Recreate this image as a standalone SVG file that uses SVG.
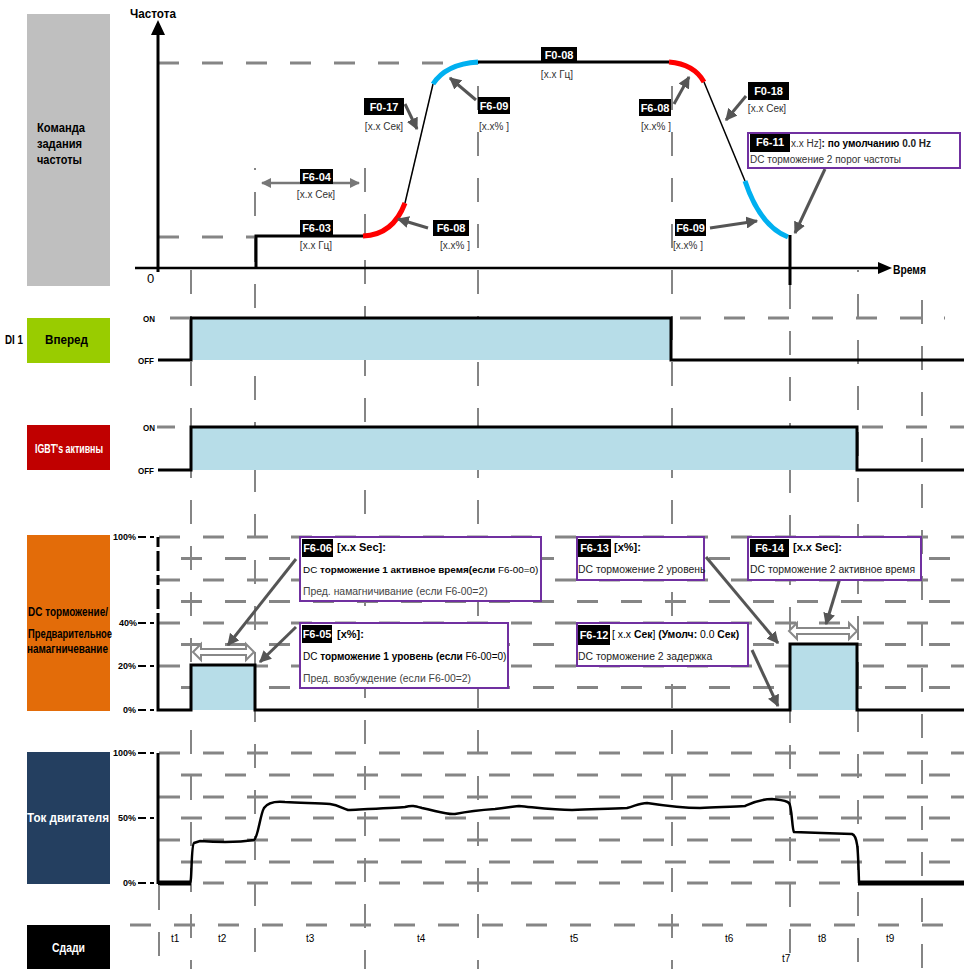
<svg xmlns="http://www.w3.org/2000/svg" width="964" height="969" viewBox="0 0 964 969">
<style>
text{font-family:"Liberation Sans Narrow","Liberation Sans",Arial,sans-serif}
.b{font-weight:bold}
.side{font-size:12px;font-weight:bold}
.lbl{font-size:11px;font-weight:bold;fill:#fff}
.sub{font-size:10px;fill:#333}
.box{fill:#fff;stroke:#7030a0;stroke-width:2}
.blk{fill:#000}
.vg{stroke:#858585;stroke-width:2;stroke-dasharray:24 22;fill:none}
.hg{stroke:#858585;stroke-width:3;stroke-dasharray:21 23;fill:none}
.sig{stroke:#000;stroke-width:3;fill:none}
.fill{fill:#b7dde8}
.arr{stroke:#555;stroke-width:3;fill:none;marker-end:url(#ah)}
.pct{font-size:9px;font-weight:bold}
.bt{font-size:10px}
.bx{font-size:10.4px}
</style>
<defs>
<marker id="ah" viewBox="0 0 10 10" refX="9" refY="5" markerWidth="4" markerHeight="4" orient="auto-start-reverse" markerUnits="strokeWidth"><path d="M0,0 L10,5 L0,10 z" fill="#555"/></marker>
<marker id="ag" viewBox="0 0 10 10" refX="9" refY="5" markerWidth="4" markerHeight="4" orient="auto-start-reverse" markerUnits="strokeWidth"><path d="M0,0 L10,5 L0,10 z" fill="#777"/></marker>
</defs>

<g id="grid">
<line class="vg" x1="159" y1="886" x2="159" y2="969"/>
<line class="vg" x1="191" y1="270" x2="191" y2="969"/>
<line class="vg" x1="255" y1="168" x2="255" y2="969" stroke-dashoffset="22"/>
<line class="vg" x1="365" y1="168" x2="365" y2="969"/>
<line class="vg" x1="478" y1="62" x2="478" y2="969" stroke-dashoffset="22"/>
<line class="vg" x1="672" y1="62" x2="672" y2="969" stroke-dashoffset="22"/>
<line class="vg" x1="790" y1="285" x2="790" y2="969"/>
<line class="vg" x1="858" y1="270" x2="858" y2="969" stroke-dashoffset="22"/>
<line class="vg" x1="922" y1="300" x2="922" y2="969"/>
<line class="hg" x1="158" y1="63" x2="478" y2="63" stroke-width="2" stroke-dasharray="20 24"/>
<line class="hg" x1="158" y1="237" x2="256" y2="237" stroke-width="2" stroke-dasharray="18 4 40 6"/>
<line class="hg" x1="680" y1="318" x2="945" y2="318"/>
<line class="hg" x1="862" y1="427" x2="964" y2="427"/>
<line class="hg" x1="159" y1="537" x2="964" y2="537"/>
<line class="hg" x1="159" y1="558.5" x2="964" y2="558.5" stroke-dashoffset="22"/>
<line class="hg" x1="159" y1="580" x2="964" y2="580"/>
<line class="hg" x1="159" y1="601.5" x2="964" y2="601.5" stroke-dashoffset="22"/>
<line class="hg" x1="159" y1="623" x2="964" y2="623"/>
<line class="hg" x1="159" y1="644.5" x2="964" y2="644.5" stroke-dashoffset="22"/>
<line class="hg" x1="159" y1="666" x2="964" y2="666"/>
<line class="hg" x1="159" y1="687.5" x2="964" y2="687.5" stroke-dashoffset="22"/>
<line class="hg" x1="159" y1="753" x2="964" y2="753"/>
<line class="hg" x1="159" y1="775" x2="964" y2="775" stroke-dashoffset="22"/>
<line class="hg" x1="159" y1="797" x2="964" y2="797"/>
<line class="hg" x1="159" y1="818" x2="964" y2="818" stroke-dashoffset="22"/>
<line class="hg" x1="159" y1="840" x2="964" y2="840"/>
<line class="hg" x1="159" y1="862" x2="964" y2="862" stroke-dashoffset="22"/>
<line class="hg" x1="159" y1="883" x2="964" y2="883"/>
<line class="hg" x1="130" y1="925" x2="964" y2="925" stroke-dasharray="12 7"/>
</g>

<g id="side-freq"><rect x="27" y="14" width="83" height="272" fill="#bfbfbf"/>
<text class="side" x="37" y="132" textLength="48" lengthAdjust="spacingAndGlyphs">Команда</text>
<text class="side" x="37" y="148" textLength="45" lengthAdjust="spacingAndGlyphs">задания</text>
<text class="side" x="37" y="164" textLength="45" lengthAdjust="spacingAndGlyphs">частоты</text></g>
<g id="side-di"><text class="side" x="5" y="344" textLength="18" lengthAdjust="spacingAndGlyphs">DI 1</text>
<rect x="27" y="318" width="83" height="45" fill="#99cc00"/>
<text class="side" x="45" y="344" textLength="43" lengthAdjust="spacingAndGlyphs">Вперед</text></g>
<g id="side-igbt"><rect x="27" y="425" width="83" height="45" fill="#c00000"/>
<text class="side" x="35" y="453" fill="#fff" textLength="68" lengthAdjust="spacingAndGlyphs">IGBT's активны</text></g>
<g id="side-dc"><rect x="27" y="535" width="83" height="176" fill="#e36c09"/>
<text class="side" x="28" y="616" font-size="10.6" textLength="80" lengthAdjust="spacingAndGlyphs">DC торможение/</text>
<text class="side" x="28" y="638" font-size="10.4" textLength="84" lengthAdjust="spacingAndGlyphs">Предварительное</text>
<text class="side" x="27" y="653" textLength="81" lengthAdjust="spacingAndGlyphs">намагничевание</text></g>
<g id="side-cur"><rect x="27" y="752" width="83" height="132" fill="#243f60"/>
<text class="side" x="27" y="822" fill="#fff" font-size="13" textLength="82" lengthAdjust="spacingAndGlyphs">Ток двигателя</text></g>
<g id="side-st"><rect x="27" y="925" width="83" height="44" fill="#000"/>
<text class="side" x="52" y="952" fill="#fff" textLength="33" lengthAdjust="spacingAndGlyphs">Сдади</text></g>

<g id="freq-axes">
<line x1="158" y1="272" x2="158" y2="32" stroke="#000" stroke-width="3"/>
<path d="M158,20 L151,35 L165,35 Z" fill="#000"/>
<line x1="135" y1="268" x2="880" y2="268" stroke="#000" stroke-width="2.5"/>
<path d="M892,268 L878,262 L878,274 Z" fill="#000"/>
<text class="b" x="130" y="18" font-size="13" textLength="46" lengthAdjust="spacingAndGlyphs">Частота</text>
<text class="b" x="893" y="274" font-size="13" textLength="33" lengthAdjust="spacingAndGlyphs">Время</text>
<text x="147" y="283" font-size="13">0</text>
</g>
<g id="freq-curve">
<path class="sig" d="M256,268 L256,236 L363,236"/>
<path d="M363,236 Q393,235 405,203" stroke="#ff0000" stroke-width="5" fill="none"/>
<line x1="405" y1="203" x2="433" y2="84" stroke="#000" stroke-width="1.5"/>
<path d="M433,84 Q446,64 478,62" stroke="#00b0f0" stroke-width="5" fill="none"/>
<line class="sig" x1="478" y1="62" x2="669" y2="62"/>
<path d="M669,62 Q694,64 704,82" stroke="#ff0000" stroke-width="5" fill="none"/>
<line x1="704" y1="82" x2="745" y2="181" stroke="#000" stroke-width="1.5"/>
<path d="M745,181 Q760,226 788,237" stroke="#00b0f0" stroke-width="5" fill="none"/>
<line class="sig" x1="790" y1="235" x2="790" y2="285"/>
</g>

<g id="connectors">
<line class="arr" x1="405" y1="104" x2="417" y2="129"/>
<line class="arr" x1="476" y1="100" x2="450" y2="78"/>
<line class="arr" x1="428" y1="228" x2="398" y2="219"/>
<line class="arr" x1="674" y1="104" x2="689" y2="77"/>
<line class="arr" x1="746" y1="96" x2="726" y2="120"/>
<line class="arr" x1="825" y1="169" x2="795" y2="233"/>
<line class="arr" x1="710" y1="228" x2="757" y2="221"/>
<line x1="262" y1="183" x2="359" y2="183" stroke="#777" stroke-width="2.5" marker-start="url(#ag)" marker-end="url(#ag)"/>
<line class="arr" x1="296" y1="559" x2="228" y2="645"/>
<line class="arr" x1="296" y1="627" x2="260" y2="662"/>
<line class="arr" x1="706" y1="557" x2="778" y2="643"/>
<line class="arr" x1="752" y1="650" x2="778" y2="706"/>
<line class="arr" x1="840" y1="578" x2="826" y2="624"/>
</g>

<g id="freq-labels">
<g id="n-f008"><rect class="blk" x="541" y="47" width="36" height="15"/><text class="lbl" x="559" y="58.5" text-anchor="middle">F0-08</text><text class="sub" x="557" y="78" text-anchor="middle">[x.x Гц]</text></g>
<g id="n-f017"><rect class="blk" x="364" y="98" width="40" height="17"/><text class="lbl" x="384" y="110.5" text-anchor="middle">F0-17</text><text class="sub" x="384" y="130" text-anchor="middle">[x.x Сек]</text></g>
<g id="n-f609a"><rect class="blk" x="478" y="97" width="32" height="17"/><text class="lbl" x="494" y="109.5" text-anchor="middle">F6-09</text><text class="sub" x="494" y="130" text-anchor="middle">[x.x% ]</text></g>
<g id="n-f604"><rect class="blk" x="300" y="169" width="33" height="15"/><text class="lbl" x="316.5" y="180.5" text-anchor="middle">F6-04</text><text class="sub" x="316" y="198" text-anchor="middle">[x.x Сек]</text></g>
<g id="n-f603"><rect class="blk" x="300" y="220" width="33" height="15"/><text class="lbl" x="316.5" y="231.5" text-anchor="middle">F6-03</text><text class="sub" x="316" y="249" text-anchor="middle">[x.x Гц]</text></g>
<g id="n-f608a"><rect class="blk" x="433" y="220" width="36" height="16"/><text class="lbl" x="451" y="232" text-anchor="middle">F6-08</text><text class="sub" x="455" y="249" text-anchor="middle">[x.x% ]</text></g>
<g id="n-f608b"><rect class="blk" x="639" y="99" width="32" height="17"/><text class="lbl" x="655" y="111.5" text-anchor="middle">F6-08</text><text class="sub" x="656" y="130" text-anchor="middle">[x.x% ]</text></g>
<g id="n-f018"><rect class="blk" x="748" y="82" width="41" height="18"/><text class="lbl" x="768.5" y="95" text-anchor="middle">F0-18</text><text class="sub" x="767" y="112" text-anchor="middle">[x.x Сек]</text></g>
<g id="n-f609b"><rect class="blk" x="675" y="219" width="31" height="17"/><text class="lbl" x="690.5" y="231.5" text-anchor="middle">F6-09</text><text class="sub" x="688" y="249" text-anchor="middle">[x.x% ]</text></g>
<g id="n-f611"><rect class="box" x="748" y="133" width="212" height="35"/><rect class="blk" x="750" y="134" width="40" height="18"/><text class="lbl" x="770" y="146" text-anchor="middle">F6-11</text>
<text x="791" y="147" font-size="10" fill="#333">x.x Hz]<tspan font-weight="bold" fill="#000">: по умолчанию </tspan><tspan font-weight="bold" fill="#222">0.0 Hz</tspan></text>
<text x="750" y="163" font-size="10" fill="#333">DC торможение 2 порог частоты</text></g>
</g>

<g id="di">
<rect class="fill" x="191" y="318" width="480" height="42"/>
<path class="sig" d="M158,360 L191,360 L191,318 L671,318 L671,360 L964,360"/>
<line x1="170" y1="318" x2="189" y2="318" stroke="#858585" stroke-width="3"/>
<text class="b" x="143" y="322" font-size="9" textLength="12" lengthAdjust="spacingAndGlyphs">ON</text>
<text class="b" x="138" y="364" font-size="9" textLength="16" lengthAdjust="spacingAndGlyphs">OFF</text>
</g>
<g id="igbt">
<rect class="fill" x="191" y="427" width="666" height="43"/>
<path class="sig" d="M158,470 L191,470 L191,427 L857,427 L857,470 L964,470"/>
<line x1="157" y1="427" x2="175" y2="427" stroke="#858585" stroke-width="3"/>
<text class="b" x="143" y="431" font-size="9" textLength="12" lengthAdjust="spacingAndGlyphs">ON</text>
<text class="b" x="138" y="474" font-size="9" textLength="16" lengthAdjust="spacingAndGlyphs">OFF</text>
</g>

<g id="dc">
<rect class="fill" x="191" y="665" width="64" height="45"/>
<rect class="fill" x="790" y="644" width="67" height="66"/>
<line x1="158" y1="537" x2="158" y2="623" stroke="#000" stroke-width="3" stroke-dasharray="10 4 20 4"/>
<path class="sig" d="M158,623 L158,710 L191,710 L191,665 L255,665 L255,710 L790,710 L790,644 L857,644 L857,710 L964,710"/>
<path d="M193,652 L201,644 L201,649 L246,649 L246,644 L254,652 L246,660 L246,655 L201,655 L201,660 Z" fill="#fff" stroke="#888" stroke-width="2"/>
<path d="M789,631 L797,623 L797,628 L849,628 L849,623 L857,631 L849,639 L849,634 L797,634 L797,639 Z" fill="#fff" stroke="#888" stroke-width="2"/>
<text class="pct" x="136" y="540" text-anchor="end">100%</text>
<text class="pct" x="137" y="625.5" text-anchor="end">40%</text>
<text class="pct" x="136" y="669" text-anchor="end">20%</text>
<text class="pct" x="136" y="713" text-anchor="end">0%</text>
<path d="M138,537 H146 M150,537 H154 M138,623 H146 M150,623 H154 M138,666 H146 M150,666 H154 M138,710 H146 M150,710 H154" stroke="#000" stroke-width="2"/>
</g>

<g id="n-f606"><rect class="box" x="300" y="537" width="241" height="64"/><rect class="blk" x="302" y="539" width="31" height="18"/><text class="lbl" x="317.5" y="551.5" text-anchor="middle">F6-06</text>
<text class="b" x="337" y="551" font-size="11">[x.x Sec]:</text>
<text x="303" y="573" font-size="9.9">DC <tspan font-weight="bold">торможение 1 активное время(если </tspan>F6-00=0)</text>
<text x="303" y="595" class="bx" fill="#444">Пред. намагничивание  (если F6-00=2)</text></g>
<g id="n-f605"><rect class="box" x="300" y="623" width="208" height="65"/><rect class="blk" x="302" y="625" width="30" height="18"/><text class="lbl" x="317" y="637.5" text-anchor="middle">F6-05</text>
<text class="b" x="337" y="638" font-size="11">[x%]:</text>
<text x="303" y="660" font-size="10">DC <tspan font-weight="bold">торможение 1 уровень (если </tspan>F6-00=0)</text>
<text x="303" y="682" class="bx" fill="#444">Пред. возбуждение (если F6-00=2)</text></g>
<g id="n-f613"><rect class="box" x="577" y="537" width="127" height="43"/><rect class="blk" x="578" y="539" width="33" height="18"/><text class="lbl" x="594.5" y="551.5" text-anchor="middle">F6-13</text>
<text class="b" x="614" y="551" font-size="11">[x%]:</text>
<text x="578" y="573" class="bx" fill="#222">DC торможение 2 уровень</text></g>
<g id="n-f614"><rect class="box" x="748" y="537" width="173" height="43"/><rect class="blk" x="750" y="539" width="39" height="18"/><text class="lbl" x="769.5" y="551.5" text-anchor="middle">F6-14</text>
<text class="b" x="793" y="551" font-size="11">[x.x Sec]:</text>
<text x="750" y="573" class="bx" fill="#222">DC торможение 2 активное время</text></g>
<g id="n-f612"><rect class="box" x="577" y="623" width="171" height="43"/><rect class="blk" x="578" y="625" width="32" height="20"/><text class="lbl" x="594" y="638.5" text-anchor="middle">F6-12</text>
<text x="612" y="638" class="bx">[ x.x <tspan font-weight="bold">Сек</tspan>] <tspan font-weight="bold">(Умолч: </tspan>0.0 <tspan font-weight="bold">Сек)</tspan></text>
<text x="578" y="660" class="bx" fill="#222">DC торможение 2 задержка</text></g>

<g id="current">
<line x1="158" y1="753" x2="158" y2="884" stroke="#000" stroke-width="3"/>
<path d="M190,883 C192,883 191,845 194,843 L200,841 C215,842 235,843 254,840 C258,838 260,815 264,808 C268,802 275,801 285,802 C305,803 320,803 330,804 C338,805 342,808 348,810 C370,809 395,808 405,807 C412,805 415,806 422,808 C440,812 448,815 455,814 C470,811 480,810 495,809 C505,808 510,807 519,806 C540,808 555,810 572,810 C595,809 610,809 627,808 C635,806 640,803 647,803 C660,805 680,808 700,808 C720,807 735,807 745,806 C752,803 760,799 772,799 C780,800 786,800 789,803 C792,806 792,830 794,832 L822,833 L852,834 C858,836 858,850 859,883" stroke="#000" stroke-width="2.5" fill="none"/>
<line x1="158" y1="883" x2="191" y2="883" stroke="#000" stroke-width="5"/>
<line x1="858" y1="883" x2="964" y2="883" stroke="#000" stroke-width="5"/>
<text class="pct" x="136" y="756" text-anchor="end">100%</text>
<text class="pct" x="136" y="821" text-anchor="end">50%</text>
<text class="pct" x="136" y="886" text-anchor="end">0%</text>
<path d="M138,753 H146 M150,753 H154 M138,818 H146 M150,818 H154 M138,883 H146 M150,883 H154" stroke="#000" stroke-width="2"/>
</g>

<g id="stages">
<text class="bt" x="171" y="942">t1</text>
<text class="bt" x="218" y="942">t2</text>
<text class="bt" x="306" y="942">t3</text>
<text class="bt" x="417" y="942">t4</text>
<text class="bt" x="570" y="942">t5</text>
<text class="bt" x="725" y="942">t6</text>
<text class="bt" x="782" y="962">t7</text>
<text class="bt" x="818" y="942">t8</text>
<text class="bt" x="886" y="942">t9</text>
</g>
</svg>
